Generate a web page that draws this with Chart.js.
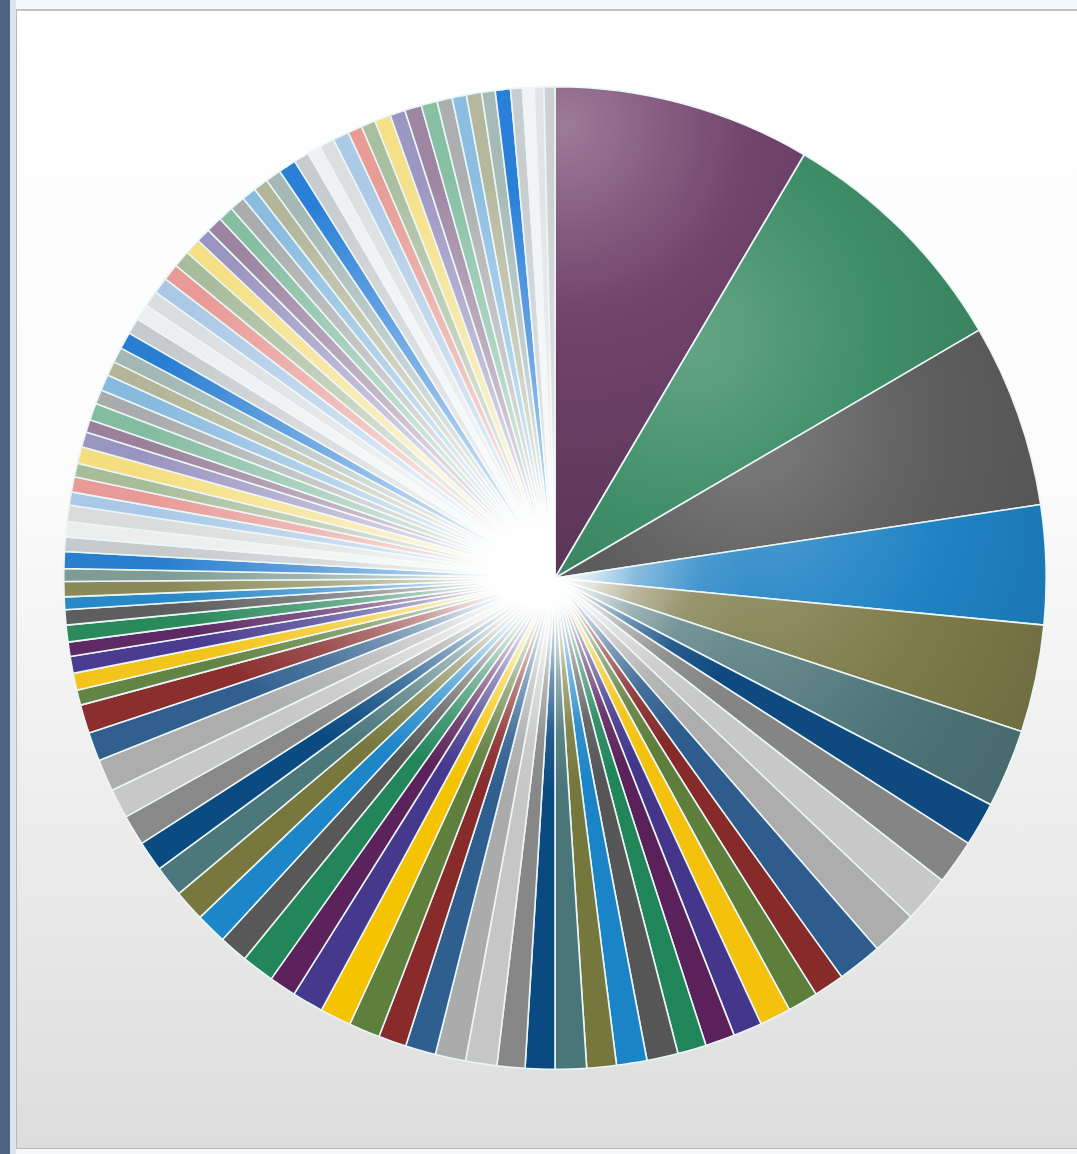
<!DOCTYPE html>
<html>
<head>
<meta charset="utf-8">
<script src="https://cdn.jsdelivr.net/npm/chart.js@4.4.0/dist/chart.umd.min.js"></script>
<style>
  body { margin:0; width:1077px; height:1154px; background:#f6f7f8; position:relative; overflow:hidden; font-family:"DejaVu Sans", sans-serif; }
  #strip { position:absolute; left:0; top:0; width:10px; height:1154px; background:#4c6584; }
  #edge { position:absolute; left:10px; top:0; width:6px; height:1154px; background:#dde6ee; }
  #panel { position:absolute; left:16px; top:9px; width:1061px; height:1140px; box-sizing:border-box;
           border:1px solid #b4b8bd; border-top:2px solid #c2c2c2; border-right:none;
           background:linear-gradient(to bottom, #ffffff 0%, #fcfcfc 40%, #ececec 72%, #dddddd 100%); }
  #chartBox { position:absolute; left:63px; top:86px; width:984px; height:984px; }
</style>
</head>
<body>
<div id="strip"></div>
<div id="edge"></div>
<div id="panel"></div>
<div id="chartBox"><canvas id="pie" width="984" height="984"></canvas></div>
<script>
// slice sizes, clockwise from 12 o'clock (sorted large to small)
const shares = [
  30.5, 29.2, 21.7, 14.1, 12.7, 9.3, 5.2, 5.3, 5.6, 5.4,
  5.3, 3.6, 3.6, 3.7, 3.4, 3.5, 3.4, 3.7, 3.6, 3.5,
  3.7, 3.5, 3.3, 3.7, 3.6, 3.6, 3.3, 3.7, 3.7, 3.7,
  3.2, 3.9, 3.4, 3.7, 3.7, 3.7, 3.6, 3.6, 3.5, 3.8,
  3.4, 3.4, 1.8, 2.0, 2.0, 1.7, 2.0, 1.8, 1.5, 1.8,
  1.5, 2.0, 1.7, 1.8, 1.95, 1.55, 1.8, 1.6, 2.0, 1.8,
  1.5, 2.0, 1.7, 1.9, 1.7, 1.8, 2.0, 1.9, 1.9, 1.9,
  1.9, 2.0, 2.0, 1.9, 1.7, 1.9, 1.8, 1.8, 1.7, 1.75,
  1.85, 2.1, 1.8, 1.6, 1.8, 1.9, 1.7, 1.7, 1.9, 1.8,
  2.0, 1.9, 1.8, 1.7, 1.8, 1.6, 1.8, 1.4, 1.35, 1.15,
  1.3
];

const sliceLabels = shares.map((v, i) => 'Item ' + (i + 1));

// one fill per slice, the palette repeats every 15 and gets paler near the top
const sliceColors = [
  '#72436c', '#3f8e68', '#5e5e5e', '#1f82c4', '#7c7a48', '#4e7579', '#0e4a80', '#858585', '#c8c8c8', '#adadad',
  '#2e5d8d', '#862a2a', '#5e7e3c', '#f4c20c', '#44378b', '#5b215b', '#21855a', '#565656', '#1b84c6', '#76773c',
  '#4a7679', '#0b4a80', '#878787', '#c6c6c6', '#ababab', '#2f5f8f', '#892b2b', '#5f7f3d', '#f5c300', '#46388c',
  '#5c225c', '#22865a', '#585858', '#1c86c8', '#78783e', '#4c787b', '#0c4b82', '#898989', '#c8c8c8', '#adadad',
  '#31608f', '#8a2e2e', '#628444', '#f3c51a', '#4a3c90', '#5e2a66', '#2a8a5c', '#5e5e5e', '#2888c8', '#8a8a58',
  '#7e9c94', '#2a7ed0', '#c6cacb', '#eceeee', '#dadcdc', '#a8c8e6', '#e89a96', '#a8bc9a', '#f5de80', '#9a94c0',
  '#9a809a', '#84bca0', '#a9abad', '#88bade', '#b4b496', '#a2b8b4', '#2a7ed2', '#c6cacc', '#eceeef', '#dadcdd',
  '#aac8e6', '#e89a96', '#a8bc9c', '#f5df84', '#9a94c0', '#9c84a0', '#86bea2', '#aaacae', '#8abce0', '#b4b69a',
  '#a4b8b6', '#2a80d6', '#c8ccce', '#eef0f1', '#dcdee0', '#acc9e6', '#e89c96', '#aabea0', '#f5e088', '#9c96c2',
  '#9e86a2', '#88c0a4', '#acaeb0', '#8cbee2', '#b6b89e', '#a6bab8', '#2a80d8', '#cacdd0', '#f2f3f4', '#e2e4e6',
  '#cdd1d4'
];

function mix(hex, other, t) {
  const a = parseInt(hex.slice(1), 16), b = parseInt(other.slice(1), 16);
  const ch = (n, s) => (n >> s) & 255;
  const r = Math.round(ch(a,16) + (ch(b,16) - ch(a,16)) * t);
  const g = Math.round(ch(a,8) + (ch(b,8) - ch(a,8)) * t);
  const bl = Math.round(ch(a,0) + (ch(b,0) - ch(a,0)) * t);
  return 'rgb(' + r + ',' + g + ',' + bl + ')';
}

const total = shares.reduce((s, v) => s + v, 0);

// the big slices are lit a little in their upper-left part, darker at the tip and the rim
function fillFor(context) {
  const i = context.dataIndex;
  if (i === undefined) return sliceColors[0];
  const base = sliceColors[i];
  if (i > 5) return base;
  let before = 0;
  for (let k = 0; k < i; k++) before += shares[k];
  const mid = (before + shares[i] / 2) / total * Math.PI * 2;
  const c = 492, R = 491;
  let lx = c + Math.sin(mid) * R * 0.5 - 40;
  let ly = c - Math.cos(mid) * R * 0.5 - 70;
  if (i === 0) { lx = 500; ly = 40; }
  const g = context.chart.ctx.createRadialGradient(lx, ly, 0, lx, ly, 420);
  g.addColorStop(0, mix(base, '#ffffff', i === 0 ? 0.3 : 0.2));
  g.addColorStop(0.45, base);
  g.addColorStop(1, mix(base, '#000000', 0.18));
  return g;
}

// white burst where the thin slices meet in the middle
const centreGlow = {
  id: 'centreGlow',
  afterDatasetsDraw(chart) {
    const meta = chart.getDatasetMeta(0);
    const arc = meta.data[0];
    if (!arc) return;
    const ctx = chart.ctx;
    const cx = arc.x, cy = arc.y, R = arc.outerRadius;
    ctx.save();
    ctx.beginPath();
    ctx.moveTo(cx, cy);
    ctx.arc(cx, cy, R, meta.data[3].startAngle, Math.PI * 1.5);
    ctx.closePath();
    ctx.clip();
    let gx = cx - 28, gy = cy - 8;
    let g = ctx.createRadialGradient(gx, gy, 0, gx, gy, 220);
    g.addColorStop(0, 'rgba(255,255,255,1)');
    g.addColorStop(0.15, 'rgba(255,255,255,1)');
    g.addColorStop(0.3, 'rgba(255,255,255,0.75)');
    g.addColorStop(0.5, 'rgba(255,255,255,0.35)');
    g.addColorStop(0.75, 'rgba(255,255,255,0.1)');
    g.addColorStop(1, 'rgba(255,255,255,0)');
    ctx.fillStyle = g;
    ctx.fillRect(cx - R, cy - R, R * 2, R * 2);
    gx = cx - 120; gy = cy - 110;
    g = ctx.createRadialGradient(gx, gy, 0, gx, gy, 290);
    g.addColorStop(0, 'rgba(255,255,255,0.6)');
    g.addColorStop(0.5, 'rgba(255,255,255,0.3)');
    g.addColorStop(1, 'rgba(255,255,255,0)');
    ctx.fillStyle = g;
    ctx.fillRect(cx - R, cy - R, R * 2, R * 2);
    ctx.restore();
  }
};

const pieChart = new Chart(document.getElementById('pie'), {
  type: 'pie',
  data: {
    labels: sliceLabels,
    datasets: [{
      data: shares,
      backgroundColor: fillFor,
      borderColor: '#eaf6f7',
      borderWidth: 1.6
    }]
  },
  options: {
    responsive: false,
    animation: false,
    events: [],
    rotation: 0,
    layout: { padding: 0 },
    plugins: {
      legend: { display: false },
      tooltip: { enabled: false }
    }
  },
  plugins: [centreGlow]
});
</script>
</body>
</html>
